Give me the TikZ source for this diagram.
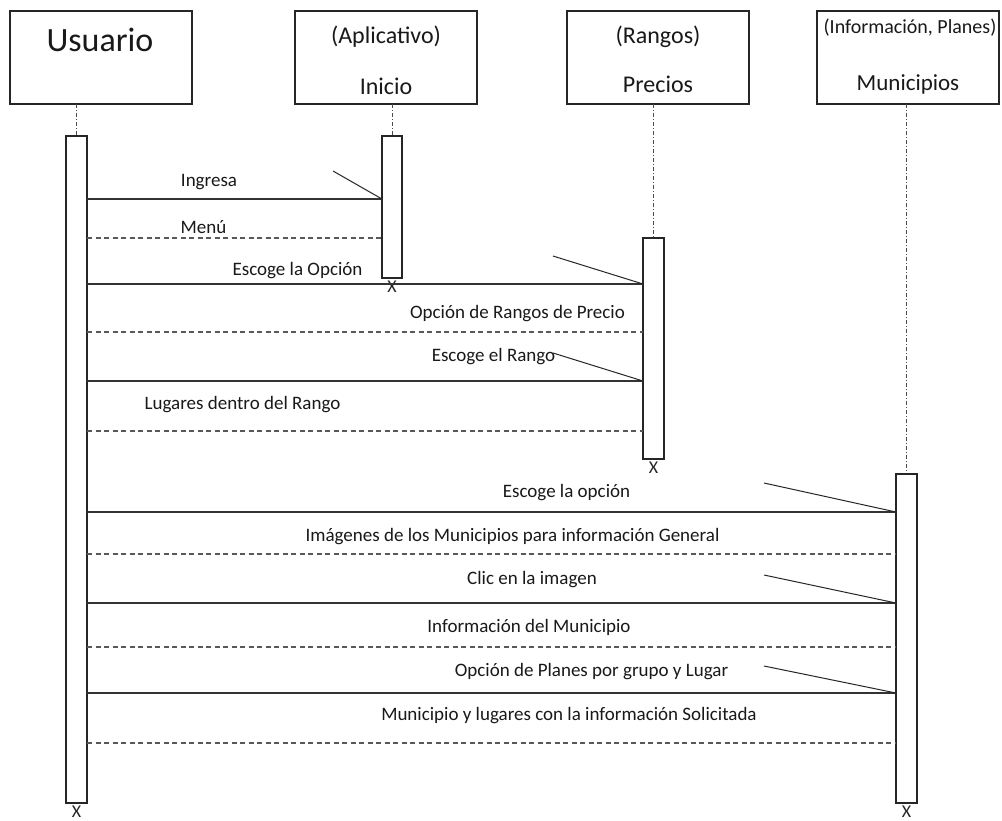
\documentclass[tikz,border=0pt]{standalone}
\usepackage{fontspec}
\setmainfont{Carlito}
\begin{document}
\begin{tikzpicture}[x=1pt,y=-1pt,
  obj/.style={draw=black!85, line width=1.1pt, minimum width=182pt, minimum height=93pt, inner sep=0pt, outer sep=0pt, anchor=north west},
  bar/.style={draw=black!85, line width=1.1pt, minimum width=21pt, inner sep=0pt, outer sep=0pt, anchor=north, fill=white},
  life/.style={draw=black!70, line width=0.9pt, dash pattern=on 4pt off 2pt on 1pt off 2pt},
  msg/.style={draw=black!80, line width=1.1pt},
  ret/.style={draw=black!65, line width=1.1pt, dash pattern=on 5pt off 3.5pt},
  half/.style={draw=black!85, line width=1pt},
  lbl/.style={font=\fontsize{19}{22}\selectfont, inner sep=0pt, text=black!90},
  ttl/.style={font=\fontsize{24}{28}\selectfont, inner sep=0pt, text=black!90},
  xm/.style={font=\fontsize{18}{20}\selectfont, inner sep=0pt, text=black!85, anchor=north, yshift=-2.5pt}
]
\useasboundingbox (0,0) rectangle (1002,820);
\fill[white] (0,0) rectangle (1002,820);

% object boxes
\node[obj] (usr) at (10,11) {};
\node[obj] (ini) at (295,11) {};
\node[obj] (pre) at (567,11) {};
\node[obj] (mun) at (817,11) {};

\node[ttl, font=\fontsize{34}{40}\selectfont] (tusr) at (100,40) {Usuario};
\node[ttl] (tapl) at (386,37) {(Aplicativo)};
\node[ttl] (tini) at (386,86) {Inicio};
\node[ttl] (tran) at (658,37) {(Rangos)};
\node[ttl] (tpre) at (658,84) {Precios};
\node[ttl, font=\fontsize{20}{24}\selectfont] (tinf) at (910,28) {(Información, Planes)};
\node[ttl, font=\fontsize{23}{27}\selectfont] (tmun) at (908,84) {Municipios};

% activation bars (positions)
\coordinate (ub) at (76.5,136);
\coordinate (ib) at (392,136);
\coordinate (pb) at (653.5,238);
\coordinate (mb) at (906.5,474);

% lifelines
\draw[life] (ub |- usr.south) -- (ub);
\draw[life] (ib |- ini.south) -- (ib);
\draw[life] (pb |- pre.south) -- (pb);
\draw[life] (mb |- mun.south) -- (mb);

\node[bar, minimum height=667pt] (ubar) at (ub) {};
\node[bar, minimum height=142pt, minimum width=20pt] (ibar) at (ib) {};
\node[bar, minimum height=221pt] (pbar) at (pb) {};
\node[bar, minimum height=329pt] (mbar) at (mb) {};

\node[xm] (xu) at (ubar.south) {X};
\node[xm] (xi) at (ibar.south) {X};
\node[xm] (xp) at (pbar.south) {X};
\node[xm] (xmu) at (mbar.south) {X};

% message levels
\coordinate (y1) at (0,199);
\coordinate (y2) at (0,238);
\coordinate (y3) at (0,284);
\coordinate (y4) at (0,332);
\coordinate (y5) at (0,381);
\coordinate (y6) at (0,431);
\coordinate (y7) at (0,512);
\coordinate (y8) at (0,554);
\coordinate (y9) at (0,603);
\coordinate (y10) at (0,647);
\coordinate (y11) at (0,693);
\coordinate (y12) at (0,743);

\draw[msg] (ubar.east |- y1) -- (ibar.west |- y1);
\draw[half] (ibar.west |- y1) -- ++(-49,-28);
\draw[ret] (ubar.east |- y2) -- (ibar.west |- y2);
\draw[msg] (ubar.east |- y3) -- (pbar.west |- y3);
\draw[half] (pbar.west |- y3) -- ++(-90,-28);
\draw[ret] (ubar.east |- y4) -- (pbar.west |- y4);
\draw[msg] (ubar.east |- y5) -- (pbar.west |- y5);
\draw[half] (pbar.west |- y5) -- ++(-90,-28);
\draw[ret] (ubar.east |- y6) -- (pbar.west |- y6);
\draw[msg] (ubar.east |- y7) -- (mbar.west |- y7);
\draw[half] (mbar.west |- y7) -- ++(-132,-29);
\draw[ret] (ubar.east |- y8) -- (mbar.west |- y8);
\draw[msg] (ubar.east |- y9) -- (mbar.west |- y9);
\draw[half] (mbar.west |- y9) -- ++(-132,-28);
\draw[ret] (ubar.east |- y10) -- (mbar.west |- y10);
\draw[msg] (ubar.east |- y11) -- (mbar.west |- y11);
\draw[half] (mbar.west |- y11) -- ++(-132,-27);
\draw[ret] (ubar.east |- y12) -- (mbar.west |- y12);

% labels
\node[lbl] (l1) at (209,182) {Ingresa};
\node[lbl] (l2) at (203.5,227) {Menú};
\node[lbl] (l3) at (297.5,271) {Escoge la Opción};
\node[lbl] (l4) at (517.5,314) {Opción de Rangos de Precio};
\node[lbl] (l5) at (493.5,357) {Escoge el Rango};
\node[lbl] (l6) at (242.5,405) {Lugares dentro del Rango};
\node[lbl] (l7) at (566.5,493) {Escoge la opción};
\node[lbl] (l8) at (512.5,537) {Imágenes de los Municipios para información General};
\node[lbl] (l9) at (532,580) {Clic en la imagen};
\node[lbl] (l10) at (529,627) {Información del Municipio};
\node[lbl] (l11) at (591.5,672) {Opción de Planes por grupo y Lugar};
\node[lbl] (l12) at (569,716) {Municipio y lugares con la información Solicitada};
\end{tikzpicture}
\end{document}
